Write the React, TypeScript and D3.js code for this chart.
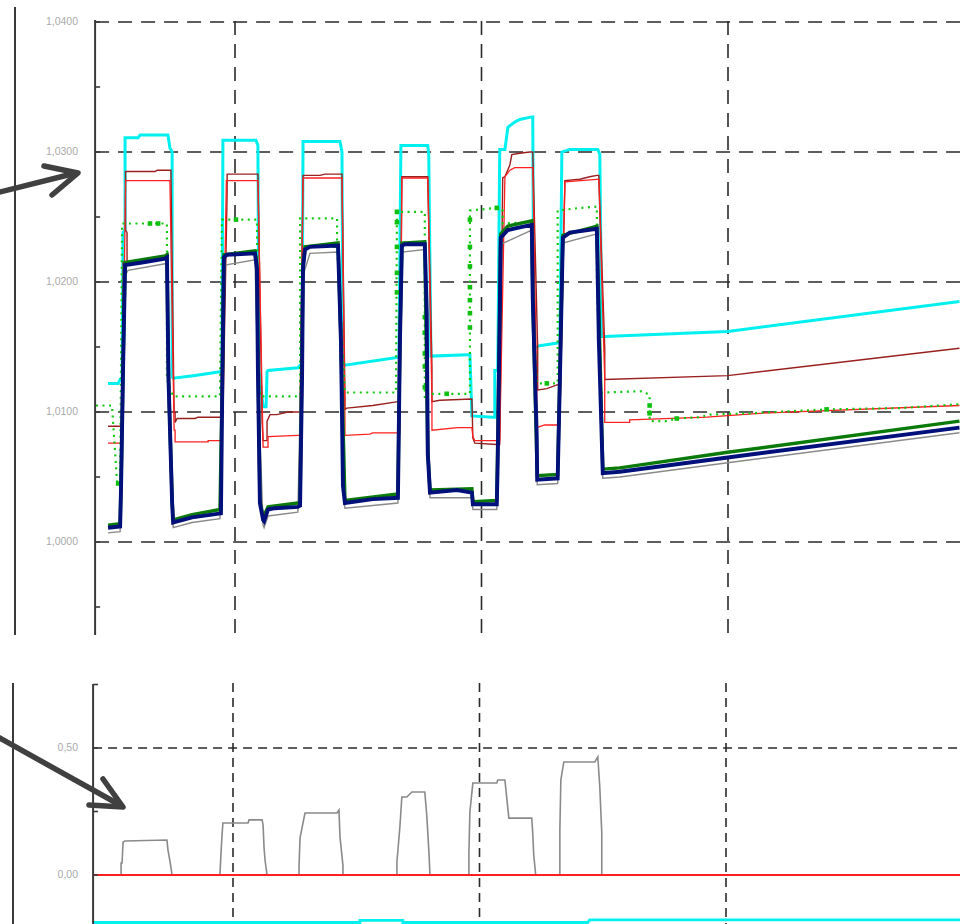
import React from 'react';
import * as d3 from 'd3';

type P = [number, number];

// x in hours (vertical gridlines every 100 h), y in density ratio
const xGrid = [100, 200, 300];
const topTickValues = [0.995, 1.0, 1.005, 1.01, 1.015, 1.02, 1.025, 1.03, 1.035, 1.04];
const topLabelValues = [1.0, 1.01, 1.02, 1.03, 1.04];
const bottomTickValues = [0, 0.25, 0.5, 0.75];
const bottomLabelValues = [0, 0.5];
const topGridValues = [1.0, 1.01, 1.02, 1.03, 1.04];
const bottomGridValues = [0.5];

const cyanSeries: P[] = [
  [48.5, 1.0122], [52.6, 1.0122], [53.4, 1.0125], [54.2, 1.0125], [54.6, 1.0238], [55.4, 1.024], [55.4, 1.0311],
  [60.7, 1.0311], [61.5, 1.0313], [72.8, 1.0313], [73.6, 1.0303], [74.5, 1.03], [74.5, 1.0127], [74.9, 1.0126],
  [83.8, 1.0128], [93.9, 1.0131], [94.7, 1.0131], [95.1, 1.0309], [108.5, 1.0309], [109.3, 1.0305], [109.7, 1.0132],
  [111.4, 1.0104], [112.6, 1.0104], [113.0, 1.0131], [113.4, 1.0132], [125.5, 1.0134], [126.4, 1.0136], [127.2, 1.0136],
  [127.6, 1.0308], [142.6, 1.0308], [143.4, 1.03], [143.8, 1.0138], [144.6, 1.0136], [165.7, 1.0142], [166.5, 1.0142],
  [167.3, 1.0305], [178.2, 1.0305], [178.6, 1.0298], [179.5, 1.0143], [194.5, 1.0144], [195.3, 1.0144], [196.1, 1.0097],
  [204.6, 1.0096], [205.4, 1.0096], [205.4, 1.0132], [206.6, 1.0132], [207.4, 1.0302], [209.5, 1.0302], [210.7, 1.0319],
  [213.5, 1.0323], [215.5, 1.0325], [220.4, 1.0327], [220.8, 1.0327], [221.2, 1.0149], [223.6, 1.0151], [230.9, 1.0153],
  [231.8, 1.0153], [232.6, 1.03], [235.8, 1.0302], [247.2, 1.0302], [248.0, 1.0298], [248.8, 1.0158], [250.0, 1.0158],
  [299.9, 1.0162], [393.9, 1.0185],
];

const darkRedSeries: P[] = [
  [48.5, 1.0089], [54.2, 1.0089], [54.6, 1.0215], [56.2, 1.0215], [56.2, 1.0238], [55.6, 1.024], [55.6, 1.0285],
  [67.6, 1.0285], [68.4, 1.0286], [72.8, 1.0286], [74.0, 1.0286], [75.3, 1.01], [75.7, 1.01], [75.7, 1.0092],
  [76.5, 1.0095], [83.8, 1.0095], [85.0, 1.0096], [95.1, 1.0096], [96.8, 1.0268], [96.8, 1.0283], [108.5, 1.0283],
  [109.3, 1.0283], [111.0, 1.0092], [111.4, 1.0078], [113.0, 1.0078], [113.0, 1.0093], [114.2, 1.0098], [117.0, 1.0098],
  [121.5, 1.01], [126.4, 1.01], [127.6, 1.0282], [134.5, 1.0282], [136.5, 1.0283], [142.6, 1.0283], [143.4, 1.0283],
  [144.6, 1.0113], [144.6, 1.0102], [145.4, 1.0103], [155.9, 1.0105], [166.1, 1.0108], [166.9, 1.0108], [167.7, 1.0281],
  [177.0, 1.0281], [178.2, 1.0281], [179.9, 1.0135], [179.9, 1.0108], [183.1, 1.0109], [196.1, 1.011], [196.5, 1.008],
  [197.3, 1.0076], [206.2, 1.0075], [207.4, 1.0075], [208.6, 1.028], [209.5, 1.0281], [211.5, 1.029], [212.3, 1.0298],
  [215.5, 1.0299], [219.6, 1.03], [220.8, 1.03], [222.8, 1.0148], [222.8, 1.0117], [226.5, 1.0118], [230.9, 1.0121],
  [231.8, 1.0121], [233.8, 1.0272], [233.8, 1.0278], [239.9, 1.0279], [243.9, 1.0281], [246.8, 1.0282], [247.6, 1.0282],
  [250.0, 1.0149], [250.0, 1.0125], [299.9, 1.0128], [393.9, 1.0149],
];

const redSeries: P[] = [
  [48.5, 1.0076], [54.2, 1.0076], [55.6, 1.0278], [72.8, 1.0278], [73.6, 1.0278], [75.3, 1.0086], [75.7, 1.0086],
  [75.7, 1.0077], [89.1, 1.0077], [89.1, 1.0078], [94.7, 1.0078], [96.5, 1.0278], [108.5, 1.0278], [109.3, 1.0278],
  [111.4, 1.0073], [113.4, 1.0073], [113.4, 1.0081], [125.5, 1.0082], [126.4, 1.0082], [127.6, 1.028], [142.6, 1.028],
  [143.4, 1.028], [144.6, 1.0094], [144.6, 1.0082], [154.7, 1.0083], [155.9, 1.0084], [166.9, 1.0084], [167.7, 1.028],
  [178.2, 1.028], [179.9, 1.0108], [179.9, 1.0086], [190.4, 1.0088], [196.1, 1.0088], [196.5, 1.0081], [197.3, 1.0078],
  [207.4, 1.0078], [209.5, 1.0281], [211.5, 1.0286], [213.5, 1.0288], [220.8, 1.0288], [222.4, 1.0117], [222.4, 1.0088],
  [225.7, 1.009], [231.8, 1.009], [233.8, 1.0277], [246.8, 1.0279], [247.6, 1.0279], [250.0, 1.0125], [250.0, 1.0092],
  [260.1, 1.0092], [260.1, 1.0094], [291.4, 1.0096], [312.8, 1.0099], [393.9, 1.0105],
];

const greenDottedSeries: P[] = [
  [43.6, 1.0105], [50.1, 1.0105], [52.2, 1.0045], [53.4, 1.0045], [54.2, 1.0245], [72.4, 1.0245], [72.4, 1.0125],
  [74.9, 1.0112], [93.9, 1.0112], [94.7, 1.0248], [107.3, 1.0248], [108.9, 1.0248], [109.3, 1.015], [110.1, 1.0112],
  [126.4, 1.0112], [126.4, 1.0249], [141.4, 1.0249], [141.4, 1.0228], [142.6, 1.0185], [144.6, 1.0115], [165.3, 1.0115],
  [165.7, 1.0254], [176.2, 1.0254], [177.0, 1.0254], [177.0, 1.011], [178.2, 1.0114], [195.3, 1.0114], [195.3, 1.0255],
  [206.2, 1.0257], [208.6, 1.0255], [208.6, 1.0245], [220.4, 1.0246], [221.2, 1.017], [222.4, 1.0122], [230.9, 1.0122],
  [230.9, 1.0255], [239.9, 1.0257], [246.8, 1.0258], [246.8, 1.02], [248.4, 1.0115], [249.2, 1.0115], [265.4, 1.0116],
  [268.2, 1.0113], [268.2, 1.0093], [275.1, 1.0093], [279.2, 1.0095], [288.5, 1.0096], [292.6, 1.0098], [308.8, 1.0099],
  [340.0, 1.0102], [369.6, 1.0103], [393.9, 1.0106],
];

const greenMarkers: P[] = [
  [52.6, 1.0045], [65.5, 1.0245], [68.8, 1.0245], [100.4, 1.0248], [140.5, 1.0228], [165.7, 1.0254], [165.7, 1.0246],
  [165.7, 1.0227], [165.7, 1.0207], [165.7, 1.0192], [177.0, 1.0173], [177.0, 1.0161], [177.0, 1.0145], [177.0, 1.0135],
  [177.0, 1.0119], [185.9, 1.0114], [195.3, 1.0248], [195.3, 1.0227], [195.3, 1.0212], [195.3, 1.0196], [195.3, 1.0186],
  [195.3, 1.0176], [195.3, 1.0165], [206.2, 1.0257], [226.5, 1.0122], [268.2, 1.0105], [268.2, 1.0099], [279.2, 1.0095],
  [340.0, 1.0102],
];

const graySeries: P[] = [
  [48.5, 1.0007], [53.4, 1.0008], [54.2, 1.013], [55.4, 1.0205], [56.6, 1.0209], [71.6, 1.0214], [72.4, 1.0215],
  [73.0, 1.012], [74.9, 1.0011], [82.6, 1.0015], [93.9, 1.0018], [94.9, 1.0125], [95.9, 1.0213], [108.1, 1.0217],
  [109.3, 1.0125], [111.4, 1.0013], [111.8, 1.0011], [113.4, 1.002], [125.5, 1.0023], [127.6, 1.0205], [130.4, 1.0222],
  [141.8, 1.0223], [143.8, 1.004], [144.6, 1.0026], [166.1, 1.003], [167.7, 1.0223], [177.0, 1.0225], [179.1, 1.0034],
  [196.1, 1.0034], [196.5, 1.0025], [206.2, 1.0025], [207.8, 1.0229], [220.4, 1.024], [222.6, 1.0044], [230.9, 1.0045],
  [233.0, 1.023], [246.8, 1.0237], [249.2, 1.0049], [256.1, 1.005], [299.9, 1.0061], [393.9, 1.0084],
];

const darkGreenSeries: P[] = [
  [48.5, 1.0013], [53.4, 1.0014], [53.8, 1.0047], [54.6, 1.0136], [55.4, 1.0215], [71.6, 1.022], [72.4, 1.0221],
  [73.0, 1.0129], [74.5, 1.0032], [74.9, 1.0017], [82.6, 1.0021], [93.9, 1.0025], [94.9, 1.0132], [95.5, 1.0221],
  [108.1, 1.0224], [108.9, 1.0212], [110.1, 1.0032], [111.4, 1.0019], [113.4, 1.0027], [125.5, 1.003], [126.4, 1.003],
  [127.6, 1.0213], [128.4, 1.0227], [141.8, 1.023], [143.0, 1.0155], [144.6, 1.0032], [166.1, 1.0037], [166.9, 1.0155],
  [167.7, 1.023], [177.0, 1.0231], [178.2, 1.007], [179.1, 1.004], [196.1, 1.0041], [196.5, 1.0031], [206.2, 1.0032],
  [207.4, 1.0178], [207.8, 1.0237], [210.7, 1.0243], [220.4, 1.0247], [220.8, 1.0189], [222.6, 1.0051], [230.9, 1.0052],
  [233.0, 1.0236], [246.8, 1.0243], [249.2, 1.0056], [256.1, 1.0057], [299.9, 1.0069], [393.9, 1.0093],
];

const navySeries: P[] = [
  [48.5, 1.0011], [53.4, 1.0012], [53.8, 1.0045], [54.6, 1.0134], [55.4, 1.0213], [62.3, 1.0215], [71.6, 1.0218],
  [72.4, 1.0219], [73.0, 1.0127], [74.5, 1.003], [74.9, 1.0015], [82.6, 1.0019], [94.3, 1.0022], [94.9, 1.013],
  [95.5, 1.0219], [96.8, 1.0221], [108.1, 1.0222], [108.9, 1.021], [109.3, 1.0131], [110.1, 1.003], [111.4, 1.0017],
  [111.8, 1.0016], [113.4, 1.0025], [116.2, 1.0026], [125.5, 1.0027], [126.4, 1.0028], [127.2, 1.0127], [127.6, 1.0211],
  [128.4, 1.0225], [130.4, 1.0227], [141.8, 1.0228], [143.0, 1.0153], [143.8, 1.0043], [144.6, 1.003], [155.9, 1.0033],
  [166.1, 1.0034], [166.9, 1.0153], [167.7, 1.0228], [168.9, 1.0229], [177.0, 1.0229], [177.8, 1.0176], [178.2, 1.0068],
  [179.1, 1.0038], [190.0, 1.004], [196.1, 1.0038], [196.5, 1.0029], [206.2, 1.0029], [206.6, 1.0063], [207.4, 1.0176],
  [207.8, 1.0234], [210.7, 1.024], [215.5, 1.0242], [220.4, 1.0244], [220.8, 1.0187], [222.4, 1.0082], [222.6, 1.0048],
  [230.9, 1.0049], [231.8, 1.0125], [233.0, 1.0234], [235.8, 1.0238], [246.8, 1.0241], [247.6, 1.0155], [249.2, 1.0053],
  [256.1, 1.0054], [299.9, 1.0065], [393.9, 1.0088],
];

// lower panel
const lowerGraySeries: P[] = [
  [44.1, 0], [54.6, 0], [54.6, 0.047], [55.0, 0.047], [55.4, 0.13], [56.2, 0.134], [73.2, 0.138], [73.6, 0.1],
  [74.5, 0.05], [75.3, 0], [94.7, 0], [95.1, 0.08], [95.5, 0.15], [95.9, 0.205], [106.1, 0.205], [106.5, 0.217],
  [111.8, 0.217], [112.2, 0.197], [112.6, 0.106], [113.0, 0.059], [113.8, 0], [126.8, 0], [126.8, 0.039], [127.2, 0.146],
  [129.2, 0.244], [142.2, 0.244], [143.0, 0.256], [143.4, 0.15], [144.6, 0.039], [144.6, 0], [166.5, 0], [166.5, 0.051],
  [167.7, 0.189], [168.5, 0.307], [170.5, 0.307], [172.6, 0.327], [177.8, 0.327], [178.6, 0.236], [179.5, 0.087],
  [179.9, 0], [195.7, 0], [195.7, 0.087], [196.1, 0.248], [197.3, 0.362], [207.0, 0.362], [207.4, 0.374], [210.3, 0.374],
  [211.1, 0.3], [211.9, 0.224], [221.2, 0.224], [221.6, 0.165], [222.0, 0.079], [222.8, 0], [232.6, 0], [232.6, 0.177],
  [233.0, 0.374], [234.2, 0.445], [246.8, 0.445], [248.0, 0.465], [248.8, 0.346], [249.6, 0.165], [249.6, 0], [398.8, 0],
];
const lowerRedSeries: P[] = [[43.2, 0], [398.8, 0]];
const lowerCyanSeries: P[] = [
  [43.2, -0.187], [151.5, -0.187], [151.5, -0.179], [168.9, -0.179], [168.9, -0.187], [243.9, -0.187],
  [244.7, -0.177], [398.8, -0.177],
];

const X_MIN = 43.24;

export default function App() {
  const xTop = d3.scaleLinear().domain([100, 300]).range([235, 728]);
  const xBot = d3.scaleLinear().domain([100, 300]).range([233, 726]);
  const yTop = d3.scaleLinear().domain([1.0, 1.04]).range([542, 22]);
  const yBot = d3.scaleLinear().domain([0, 0.5]).range([875, 748]);

  const topBottomY = 635;
  const topTopY = 21;
  const botTopY = 684;
  const botBottomY = 924;

  const lineTop = d3.line<P>().x((d) => xTop(d[0])).y((d) => yTop(d[1]));
  const lineBot = d3.line<P>().x((d) => xBot(d[0])).y((d) => yBot(d[1]));

  const fmtTop = (v: number) => d3.format('.4f')(v).replace('.', ',');
  const fmtBot = (v: number) => d3.format('.2f')(v).replace('.', ',');

  const gridColor = '#2a2a2a';
  const axisColor = '#3a3a3a';
  const labelColor = '#aaaaaa';
  const font = 'Liberation Sans, Arial, sans-serif';

  const xAxisTop = xTop(X_MIN);
  const xAxisBot = xBot(X_MIN);
  const rightEdge = 960;

  return (
    <svg
      width={960}
      height={924}
      style={{ position: 'absolute', left: 0, top: 0, background: '#fff' }}
      xmlns="http://www.w3.org/2000/svg"
    >
      <defs>
        <clipPath id="clipTop">
          <rect x={xAxisTop} y={0} width={rightEdge - xAxisTop} height={topBottomY} />
        </clipPath>
        <clipPath id="clipBot">
          <rect x={xAxisBot} y={botTopY} width={rightEdge - xAxisBot} height={botBottomY - botTopY} />
        </clipPath>
      </defs>

      {/* outer frame left edges */}
      <line x1={15} x2={15} y1={7} y2={topBottomY} stroke={axisColor} strokeWidth={2} />
      <line x1={13} x2={13} y1={683} y2={botBottomY} stroke={axisColor} strokeWidth={2} />

      {/* ===== TOP PANEL ===== */}
      {topGridValues.map((v) => (
        <line key={'hg' + v} x1={xAxisTop} x2={rightEdge} y1={yTop(v)} y2={yTop(v)}
          stroke={gridColor} strokeWidth={1.6} strokeDasharray="14 9" />
      ))}
      {xGrid.map((t) => (
        <line key={'vg' + t} x1={xTop(t)} x2={xTop(t)} y1={topTopY} y2={topBottomY}
          stroke={gridColor} strokeWidth={1.6} strokeDasharray="14 9" />
      ))}

      <g clipPath="url(#clipTop)" fill="none" strokeLinejoin="miter">
        <path d={lineTop(cyanSeries) || ''} stroke="#00F0F0" strokeWidth={3} />
        <path d={lineTop(darkRedSeries) || ''} stroke="#9a1f1f" strokeWidth={1.4} />
        <path d={lineTop(redSeries) || ''} stroke="#ff2020" strokeWidth={1.3} />
        <path d={lineTop(greenDottedSeries) || ''} stroke="#10c810" strokeWidth={2.2} strokeDasharray="2 4.5" />
        {greenMarkers.map((d, i) => (
          <rect key={'gm' + i} x={xTop(d[0]) - 2.3} y={yTop(d[1]) - 2.3} width={4.6} height={4.6} fill="#10c010" />
        ))}
        <path d={lineTop(graySeries) || ''} stroke="#8a8a8a" strokeWidth={1.4} />
        <path d={lineTop(darkGreenSeries) || ''} stroke="#0a7a0a" strokeWidth={3.4} />
        <path d={lineTop(navySeries) || ''} stroke="#00107a" strokeWidth={3.9} />
      </g>

      {/* top axis */}
      <line x1={xAxisTop} x2={xAxisTop} y1={topTopY - 1} y2={topBottomY} stroke={axisColor} strokeWidth={2} />
      {topTickValues.map((v) => (
        <line key={'tt' + v} x1={xAxisTop} x2={xAxisTop + 5} y1={yTop(v)} y2={yTop(v)} stroke={axisColor} strokeWidth={1.6} />
      ))}
      {topLabelValues.map((v) => (
        <text key={'tl' + v} x={78} y={yTop(v)} textAnchor="end" dominantBaseline="middle"
          fontFamily={font} fontSize={10.5} fill={labelColor}>
          {fmtTop(v)}
        </text>
      ))}

      {/* ===== BOTTOM PANEL ===== */}
      {bottomGridValues.map((v) => (
        <line key={'bhg' + v} x1={xAxisBot} x2={rightEdge} y1={yBot(v)} y2={yBot(v)}
          stroke={gridColor} strokeWidth={1.6} strokeDasharray="9 6" />
      ))}
      {xGrid.map((t) => (
        <line key={'bvg' + t} x1={xBot(t)} x2={xBot(t)} y1={botTopY - 1} y2={botBottomY}
          stroke={gridColor} strokeWidth={1.6} strokeDasharray="9 6" />
      ))}
      <g clipPath="url(#clipBot)" fill="none">
        <path d={lineBot(lowerCyanSeries) || ''} stroke="#00F0F0" strokeWidth={2.8} />
        <path d={lineBot(lowerGraySeries) || ''} stroke="#8a8a8a" strokeWidth={1.6} />
        <path d={lineBot(lowerRedSeries) || ''} stroke="#ff2020" strokeWidth={2} />
      </g>
      <line x1={xAxisBot} x2={xAxisBot} y1={botTopY} y2={botBottomY} stroke={axisColor} strokeWidth={2} />
      {bottomTickValues.map((v) => (
        <line key={'bt' + v} x1={xAxisBot} x2={xAxisBot + 5} y1={yBot(v)} y2={yBot(v)} stroke={axisColor} strokeWidth={1.6} />
      ))}
      {bottomLabelValues.map((v) => (
        <text key={'bl' + v} x={78} y={yBot(v)} textAnchor="end" dominantBaseline="middle"
          fontFamily={font} fontSize={10.5} fill={labelColor}>
          {fmtBot(v)}
        </text>
      ))}

      {/* annotation arrows */}
      <g stroke="#404040" strokeWidth={5.5} strokeLinecap="round" strokeLinejoin="round" fill="none">
        <line x1={-4} y1={193} x2={76} y2={173} />
        <polyline points="44,166 78,173 52,195" />
        <line x1={-4} y1={736} x2={120} y2={805} />
        <polyline points="103,779 123,807 89,805" />
      </g>
    </svg>
  );
}
